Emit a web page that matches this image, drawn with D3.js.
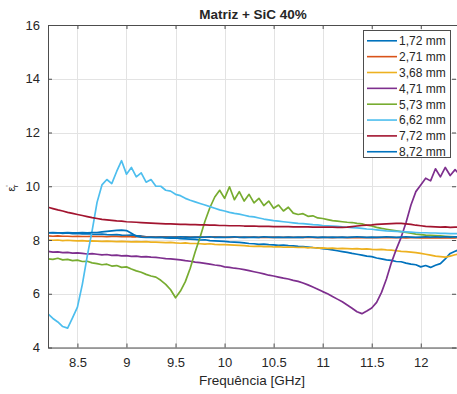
<!DOCTYPE html>
<html>
<head>
<meta charset="utf-8">
<script src="https://cdn.jsdelivr.net/npm/d3@7"></script>
<style>
  body { margin: 0; background: #fff; }
  text { font-family: "Liberation Sans", Arial, sans-serif; fill: #262626; }
</style>
</head>
<body>
<div id="chart"></div>
<script>
// Matriz + SiC 40% — real permittivity vs frequency, 8 sample thicknesses

const freq = [
  8.20, 8.25, 8.30, 8.35, 8.40, 8.45, 8.50, 8.55, 8.60, 8.65,
  8.70, 8.75, 8.80, 8.85, 8.90, 8.95, 9.00, 9.05, 9.10, 9.15,
  9.20, 9.25, 9.30, 9.35, 9.40, 9.45, 9.50, 9.55, 9.60, 9.65,
  9.70, 9.75, 9.80, 9.85, 9.90, 9.95, 10.00, 10.05, 10.10, 10.15,
  10.20, 10.25, 10.30, 10.35, 10.40, 10.45, 10.50, 10.55, 10.60, 10.65,
  10.70, 10.75, 10.80, 10.85, 10.90, 10.95, 11.00, 11.05, 11.10, 11.15,
  11.20, 11.25, 11.30, 11.35, 11.40, 11.45, 11.50, 11.55, 11.60, 11.65,
  11.70, 11.75, 11.80, 11.85, 11.90, 11.95, 12.00, 12.05, 12.10, 12.15,
  12.20, 12.25, 12.30, 12.35, 12.40
];

const s172 = [
  8.27, 8.26, 8.27, 8.25, 8.26, 8.24, 8.25, 8.23, 8.24, 8.22,
  8.21, 8.22, 8.20, 8.19, 8.20, 8.18, 8.17, 8.18, 8.16, 8.15,
  8.12, 8.11, 8.10, 8.11, 8.08, 8.07, 8.08, 8.05, 8.04, 8.03,
  8.02, 8.00, 8.01, 7.98, 7.97, 7.96, 7.95, 7.93, 7.92, 7.91,
  7.89, 7.87, 7.86, 7.84, 7.85, 7.83, 7.82, 7.80, 7.81, 7.79,
  7.78, 7.76, 7.75, 7.74, 7.72, 7.71, 7.68, 7.66, 7.63, 7.60,
  7.57, 7.54, 7.50, 7.47, 7.44, 7.40, 7.38, 7.33, 7.30, 7.26,
  7.24, 7.20, 7.19, 7.14, 7.10, 7.08, 7.00, 7.05, 6.98, 7.06,
  7.12, 7.30, 7.50, 7.58, 7.66
];
const s271 = [
  8.15, 8.14, 8.15, 8.14, 8.14, 8.13, 8.14, 8.13, 8.13, 8.14,
  8.13, 8.13, 8.12, 8.13, 8.13, 8.12, 8.13, 8.12, 8.12, 8.13,
  8.12, 8.12, 8.11, 8.12, 8.12, 8.11, 8.12, 8.11, 8.12, 8.11,
  8.11, 8.12, 8.11, 8.11, 8.12, 8.11, 8.11, 8.10, 8.11, 8.11,
  8.10, 8.11, 8.11, 8.10, 8.11, 8.10, 8.11, 8.10, 8.10, 8.11,
  8.10, 8.10, 8.11, 8.10, 8.10, 8.09, 8.10, 8.10, 8.09, 8.10,
  8.10, 8.09, 8.10, 8.09, 8.10, 8.09, 8.09, 8.10, 8.09, 8.09,
  8.10, 8.09, 8.09, 8.08, 8.09, 8.09, 8.08, 8.09, 8.08, 8.09,
  8.08, 8.09, 8.08, 8.08, 8.09
];
const s368 = [
  8.00, 7.99, 8.00, 7.98, 7.99, 7.98, 7.97, 7.98, 7.96, 7.97,
  7.96, 7.95, 7.96, 7.95, 7.94, 7.95, 7.94, 7.93, 7.94, 7.93,
  7.94, 7.92, 7.92, 7.91, 7.90, 7.91, 7.89, 7.88, 7.89, 7.87,
  7.87, 7.86, 7.85, 7.86, 7.84, 7.83, 7.83, 7.82, 7.81, 7.80,
  7.79, 7.77, 7.76, 7.77, 7.75, 7.76, 7.74, 7.75, 7.73, 7.74,
  7.73, 7.72, 7.73, 7.71, 7.72, 7.70, 7.71, 7.69, 7.70, 7.68,
  7.69, 7.68, 7.67, 7.68, 7.66, 7.67, 7.65, 7.64, 7.65, 7.63,
  7.62, 7.60, 7.58, 7.57, 7.55, 7.53, 7.50, 7.47, 7.44, 7.40,
  7.38, 7.36, 7.40, 7.45, 7.50
];
const s471 = [
  7.58, 7.55, 7.56, 7.53, 7.54, 7.51, 7.52, 7.50, 7.48, 7.49,
  7.47, 7.45, 7.46, 7.43, 7.44, 7.41, 7.42, 7.39, 7.40, 7.37,
  7.38, 7.36, 7.35, 7.33, 7.31, 7.30, 7.28, 7.26, 7.23, 7.21,
  7.18, 7.16, 7.13, 7.10, 7.07, 7.05, 7.00, 6.98, 6.95, 6.93,
  6.90, 6.86, 6.82, 6.78, 6.74, 6.69, 6.66, 6.62, 6.58, 6.55,
  6.50, 6.46, 6.40, 6.33, 6.25, 6.17, 6.08, 6.00, 5.90, 5.80,
  5.70, 5.58, 5.46, 5.33, 5.26, 5.36, 5.47, 5.68, 6.05, 6.55,
  7.15, 7.65, 8.10, 8.65, 9.30, 9.80, 10.05, 10.30, 10.20, 10.65,
  10.35, 10.70, 10.40, 10.62, 10.42
];
const s573 = [
  7.30, 7.28, 7.32, 7.26, 7.28, 7.23, 7.25, 7.20, 7.21, 7.15,
  7.12, 7.08, 7.10, 7.03, 7.05, 6.98, 7.00, 6.92, 6.85, 6.80,
  6.72, 6.66, 6.62, 6.50, 6.35, 6.15, 5.85, 6.10, 6.45, 6.95,
  7.55, 8.10, 8.70, 9.20, 9.60, 9.85, 9.55, 9.98, 9.50, 9.80,
  9.45, 9.70, 9.38, 9.55, 9.28, 9.45, 9.18, 9.30, 9.08, 9.22,
  9.00, 8.95, 8.98, 8.88, 8.90, 8.82, 8.80, 8.76, 8.72, 8.70,
  8.68, 8.66, 8.65, 8.62, 8.60, 8.55, 8.52, 8.47, 8.43, 8.40,
  8.37, 8.34, 8.31, 8.28, 8.25, 8.22, 8.20, 8.18, 8.17, 8.16,
  8.15, 8.14, 8.13, 8.12, 8.12
];
const s662 = [
  5.25, 5.08, 4.95, 4.78, 4.72, 5.10, 5.50, 6.35, 7.40, 8.35,
  9.40, 10.05, 10.25, 10.10, 10.55, 10.95, 10.45, 10.70, 10.35, 10.50,
  10.15, 10.25, 10.00, 10.00, 9.85, 9.82, 9.70, 9.65, 9.55, 9.48,
  9.42, 9.36, 9.30, 9.24, 9.18, 9.12, 9.08, 9.03, 8.99, 8.96,
  8.92, 8.88, 8.86, 8.82, 8.78, 8.75, 8.72, 8.70, 8.68, 8.66,
  8.64, 8.62, 8.61, 8.59, 8.57, 8.56, 8.54, 8.53, 8.52, 8.51,
  8.49, 8.48, 8.46, 8.45, 8.43, 8.41, 8.40, 8.38, 8.36, 8.34,
  8.33, 8.32, 8.31, 8.30, 8.29, 8.28, 8.27, 8.27, 8.26, 8.26,
  8.25, 8.25, 8.24, 8.24, 8.23
];
const s772 = [
  9.22, 9.17, 9.12, 9.08, 9.03, 8.99, 8.95, 8.91, 8.87, 8.83,
  8.80, 8.77, 8.75, 8.73, 8.71, 8.70, 8.68, 8.67, 8.66, 8.65,
  8.64, 8.63, 8.62, 8.61, 8.60, 8.60, 8.59, 8.58, 8.58, 8.57,
  8.57, 8.56, 8.56, 8.55, 8.55, 8.54, 8.54, 8.53, 8.53, 8.53,
  8.52, 8.52, 8.52, 8.51, 8.51, 8.51, 8.50, 8.50, 8.50, 8.50,
  8.49, 8.49, 8.49, 8.49, 8.48, 8.48, 8.48, 8.48, 8.48, 8.47,
  8.47, 8.48, 8.50, 8.52, 8.54, 8.55, 8.56, 8.58, 8.59, 8.60,
  8.61, 8.62, 8.62, 8.60, 8.58, 8.55, 8.53, 8.51, 8.50, 8.49,
  8.48, 8.49, 8.47, 8.48, 8.48
];
const s872 = [
  8.27, 8.28, 8.27, 8.27, 8.28, 8.27, 8.27, 8.28, 8.27, 8.28,
  8.28, 8.30, 8.32, 8.34, 8.36, 8.37, 8.35, 8.25, 8.14, 8.11,
  8.10, 8.11, 8.10, 8.11, 8.10, 8.11, 8.10, 8.12, 8.11, 8.10,
  8.11, 8.10, 8.11, 8.12, 8.10, 8.11, 8.10, 8.11, 8.12, 8.10,
  8.11, 8.10, 8.11, 8.10, 8.12, 8.11, 8.10, 8.11, 8.10, 8.11,
  8.10, 8.11, 8.10, 8.12, 8.11, 8.10, 8.11, 8.10, 8.11, 8.10,
  8.11, 8.10, 8.11, 8.12, 8.11, 8.10, 8.11, 8.10, 8.11, 8.12,
  8.11, 8.10, 8.11, 8.12, 8.11, 8.10, 8.11, 8.12, 8.11, 8.12,
  8.11, 8.12, 8.11, 8.12, 8.12
];

const seriesNames = ["1,72 mm", "2,71 mm", "3,68 mm", "4,71 mm", "5,73 mm", "6,62 mm", "7,72 mm", "8,72 mm"];
const seriesValues = [s172, s271, s368, s471, s573, s662, s772, s872];
const seriesColors = ["#0072BD", "#D95319", "#EDB120", "#7E2F8E", "#77AC30", "#4DBEEE", "#A2142F", "#0072BD"];

const xTicks = [8.5, 9, 9.5, 10, 10.5, 11, 11.5, 12];
const yTicks = [4, 6, 8, 10, 12, 14, 16];

const W = 457, H = 394;
const plot = { left: 48, top: 25, right: 460, bottom: 347.5 };

const svg = d3.select("#chart").append("svg")
  .attr("width", W).attr("height", H);

const x = d3.scaleLinear().domain([8.2, 12.4]).range([plot.left, plot.right]);
const y = d3.scaleLinear().domain([4, 16]).range([plot.bottom, plot.top]);

// grid
const grid = svg.append("g").attr("stroke", "#e3e3e3").attr("stroke-width", 1);
grid.selectAll("line.gx").data(xTicks).join("line")
  .attr("x1", d => Math.round(x(d)) + 0.5).attr("x2", d => Math.round(x(d)) + 0.5)
  .attr("y1", plot.top).attr("y2", plot.bottom);
grid.selectAll("line.gy").data(yTicks).join("line")
  .attr("y1", d => Math.round(y(d)) + 0.5).attr("y2", d => Math.round(y(d)) + 0.5)
  .attr("x1", plot.left).attr("x2", plot.right);

// clip for the curves
svg.append("clipPath").attr("id", "clip")
  .append("rect")
  .attr("x", plot.left).attr("y", plot.top)
  .attr("width", plot.right - plot.left).attr("height", plot.bottom - plot.top);

const line = d3.line()
  .x((d, i) => x(freq[i]))
  .y(d => y(d));

svg.append("g").attr("clip-path", "url(#clip)")
  .selectAll("path").data(seriesValues).join("path")
  .attr("fill", "none")
  .attr("stroke", (d, i) => seriesColors[i])
  .attr("stroke-width", 1.7)
  .attr("stroke-linejoin", "round")
  .attr("d", line);

// axes (MATLAB box style, ticks inward)
const axisColor = "#4d4d4d";
const bottomAxis = svg.append("g").attr("transform", `translate(0,${plot.bottom})`)
  .call(d3.axisBottom(x).tickValues(xTicks).tickSizeInner(-4).tickSizeOuter(0).tickPadding(10).tickFormat(d3.format("")));
const leftAxis = svg.append("g").attr("transform", `translate(${plot.left},0)`)
  .call(d3.axisLeft(y).tickValues(yTicks).tickSizeInner(-4).tickSizeOuter(0).tickPadding(8));
const topAxis = svg.append("g").attr("transform", `translate(0,${plot.top})`)
  .call(d3.axisTop(x).tickValues(xTicks).tickSizeInner(-4).tickSizeOuter(0).tickFormat(""));
const rightAxis = svg.append("g").attr("transform", `translate(${plot.right - 4},0)`)
  .call(d3.axisRight(y).tickValues(yTicks).tickSizeInner(-4).tickSizeOuter(0).tickFormat(""));

[bottomAxis, leftAxis, topAxis, rightAxis].forEach(g => {
  g.selectAll(".domain").attr("stroke", axisColor);
  g.selectAll(".tick line").attr("stroke", axisColor);
  g.selectAll(".tick text")
    .style("font-family", "'Liberation Sans', Arial, sans-serif")
    .style("font-size", "13px").attr("fill", "#262626");
});
rightAxis.select(".domain").remove();

// title
svg.append("text")
  .attr("x", (plot.left + plot.right) / 2 - 1).attr("y", 19)
  .attr("text-anchor", "middle")
  .style("font-size", "13.5px").style("font-weight", "bold")
  .text("Matriz + SiC 40%");

// x label
svg.append("text")
  .attr("x", (plot.left + plot.right) / 2 - 2).attr("y", 385)
  .attr("text-anchor", "middle")
  .style("font-size", "13.5px")
  .text("Frequência [GHz]");

// y label ε'_r
const yl = svg.append("text")
  .attr("transform", `translate(15,188) rotate(-90)`)
  .attr("text-anchor", "middle")
  .style("font-size", "11px");
yl.append("tspan").text("ε");
yl.append("tspan").attr("dy", -4).style("font-size", "8px").text("'");
yl.append("tspan").attr("dy", 7).attr("dx", -2).style("font-size", "8px").text("r");

// legend
const lg = svg.append("g");
lg.append("rect")
  .attr("x", 363.5).attr("y", 30.5).attr("width", 87).attr("height", 127)
  .attr("fill", "#fff").attr("stroke", "#4d4d4d").attr("stroke-width", 1);
const items = lg.selectAll("g.item").data(seriesNames).join("g")
  .attr("class", "item")
  .attr("transform", (d, i) => `translate(0,${40.8 + i * 15.85})`);
items.append("line")
  .attr("x1", 367).attr("x2", 397).attr("y1", 0).attr("y2", 0)
  .attr("stroke", (d, i) => seriesColors[i]).attr("stroke-width", 1.6);
items.append("text")
  .attr("x", 399).attr("y", 4.3)
  .style("font-size", "12px")
  .text(d => d);
</script>
</body>
</html>
